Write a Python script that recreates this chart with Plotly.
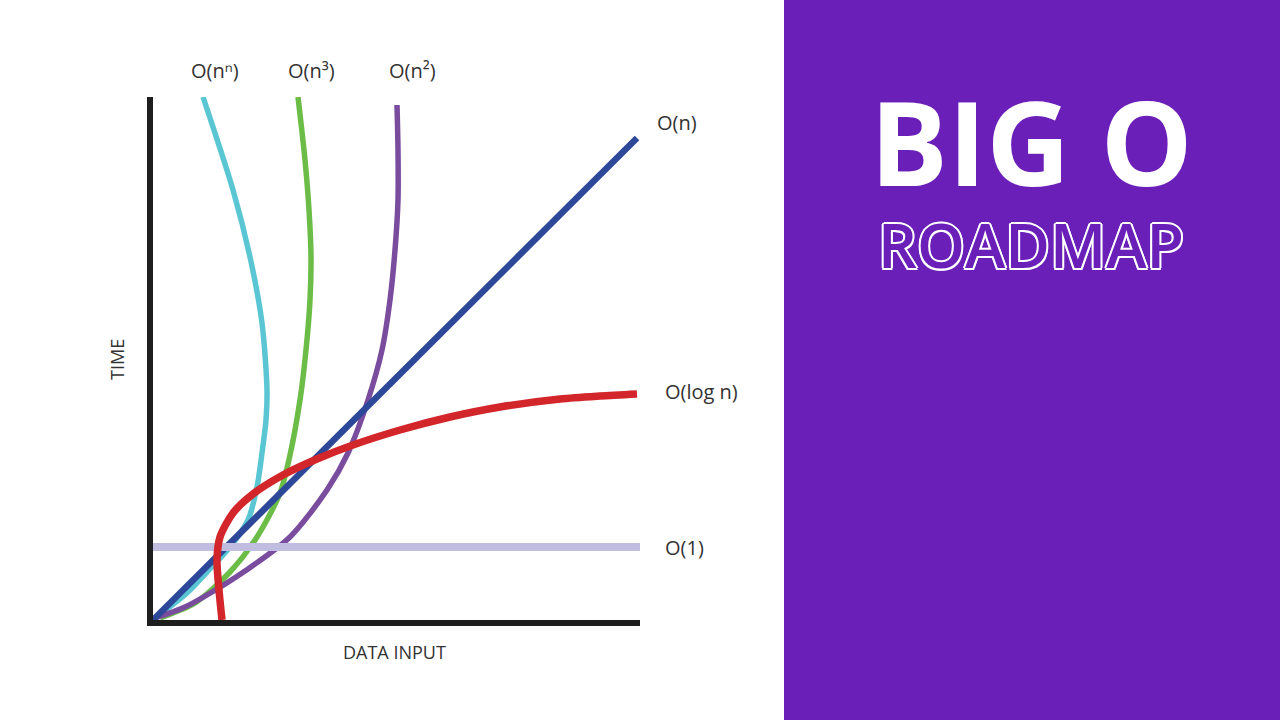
import plotly.graph_objects as go

W, H = 1280, 720

# curve points (n = data input, t = time, arbitrary units)
n_exp = [2, 34, 54, 77, 95, 104, 109, 113, 114, 109, 97, 80, 50]
t_exp = [2, 27, 48, 73, 100, 133, 167, 200, 230, 297, 363, 430, 523]

n_cube = [7, 42, 77, 104, 127, 137, 147, 153, 157, 158, 156, 152, 145]
t_cube = [2, 17, 48, 83, 127, 165, 220, 270, 320, 363, 410, 460, 523]

n_sq = [2, 14, 32, 54, 92, 137, 174, 195, 215, 229, 237, 242, 245, 245, 244]
t_sq = [2, 6, 13, 25, 49, 83, 130, 167, 220, 270, 320, 370, 420, 470, 515]

n_lin = [0, 484]
t_lin = [0, 482]

n_log = [69, 66, 64, 67, 80, 100, 130, 164, 200, 247, 297, 347, 407, 447, 484]
t_log = [0, 30, 60, 83, 107, 126, 145, 161, 175, 190, 203, 213, 221, 224, 226]

n_const = [0, 487]
t_const = [73, 73]

labels = ["O(nⁿ)", "O(n³)", "O(n²)", "O(n)", "O(log n)", "O(1)"]
# label positions in picture pixels (x, y, anchor)
label_pos = [(215, 71, "center"), (311, 71, "center"), (412, 71, "center"),
             (655, 122, "left"), (663, 392, "left"), (663, 547, "left")]

fig = go.Figure()


def curve(x, y, color, width):
    fig.add_trace(go.Scatter(x=x, y=y, mode="lines",
                             line=dict(color=color, width=width, shape="spline", smoothing=0.8),
                             hoverinfo="skip", showlegend=False))


curve(n_exp, t_exp, "#5bc6d3", 5.5)
curve(n_cube, t_cube, "#6cbd47", 5.5)
curve(n_sq, t_sq, "#7a4c9e", 5.5)
curve(n_lin, t_lin, "#2e4899", 6.5)
curve(n_const, t_const, "#c1bde0", 8)
curve(n_log, t_log, "#d2262a", 7.5)

label_font = dict(family="Open Sans", size=20, color="#333333")
for txt, (px, py, anchor) in zip(labels, label_pos):
    fig.add_annotation(xref="paper", yref="paper", x=px / W, y=1 - py / H, text=txt,
                       showarrow=False, xanchor=anchor, yanchor="middle", font=label_font)

axis_font = dict(family="Open Sans", size=18, color="#333333")
fig.add_annotation(xref="paper", yref="paper", x=394 / W, y=1 - 652 / H, text="DATA INPUT",
                   showarrow=False, xanchor="center", yanchor="middle", font=axis_font)
fig.add_annotation(xref="paper", yref="paper", x=117 / W, y=1 - 360 / H, text="TIME",
                   textangle=-90, showarrow=False, xanchor="center", yanchor="middle", font=axis_font)

# purple side panel
fig.add_shape(type="rect", xref="paper", yref="paper", x0=784 / W, x1=1.0, y0=0, y1=1,
              fillcolor="#6a1fb9", line_width=0, layer="below")

fig.add_annotation(xref="paper", yref="paper", x=1031 / W, y=1 - 141 / H, text="BIG O",
                   showarrow=False, xanchor="center", yanchor="middle",
                   font=dict(family="Open Sans", size=116, color="white", weight=700))
outline = ", ".join(f"{dx}px {dy}px 0 #ffffff" for dx, dy in
                    [(-2, 0), (2, 0), (0, -2), (0, 2), (-1.5, -1.5), (1.5, -1.5), (-1.5, 1.5), (1.5, 1.5)])
fig.add_annotation(xref="paper", yref="paper", x=1031 / W, y=1 - 244 / H, text="ROADMAP",
                   showarrow=False, xanchor="center", yanchor="middle",
                   font=dict(family="Open Sans", size=61, color="#6a1fb9", weight=600, shadow=outline))

fig.update_xaxes(domain=[153 / W, 640 / W], range=[0, 487], showgrid=False, zeroline=False,
                 showticklabels=False, ticks="", showline=True, linecolor="#1e1e1e", linewidth=6)
fig.update_yaxes(domain=[100 / H, 623 / H], range=[0, 523], showgrid=False, zeroline=False,
                 showticklabels=False, ticks="", showline=True, linecolor="#1e1e1e", linewidth=6)

fig.update_layout(width=W, height=H, margin=dict(l=0, r=0, t=0, b=0),
                  paper_bgcolor="white", plot_bgcolor="rgba(0,0,0,0)")

fig.write_html("out.html", config={"displayModeBar": False},
               post_script="document.body.style.margin='0';")
